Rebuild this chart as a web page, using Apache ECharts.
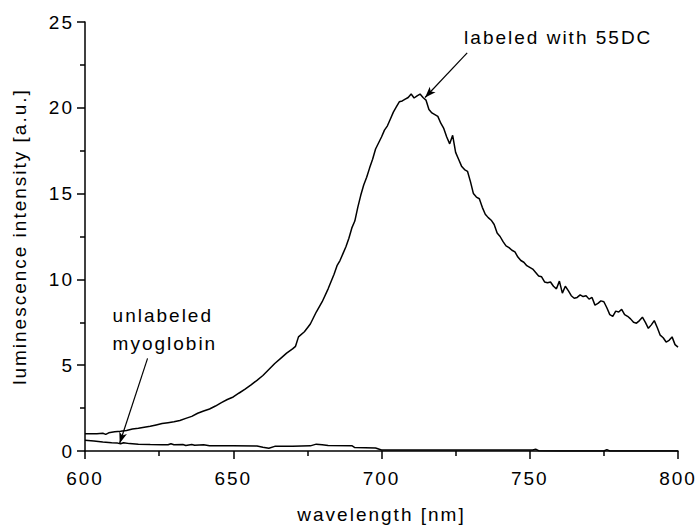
<!DOCTYPE html>
<html>
<head lang="en">
    <meta charset="UTF-8"/>
    <title>luminescence intensity</title>
    <script src="https://cdn.jsdelivr.net/npm/echarts@6/dist/echarts.min.js"></script>
    <style>
        html, body { margin: 0; padding: 0; background: #fff; }
        #main { width: 700px; height: 529px; }
        /* the reference text is drawn wide, so open the letters up */
        #main text { letter-spacing: 2px; }
    </style>
</head>
<body>
<div id="main"></div>
<script>
    // labeled with 55DC
    var labeledNm = [600, 602, 604, 606, 607, 608, 610, 612, 614, 616, 618, 620, 622, 624, 626, 628, 630, 632, 634, 636,
        638, 640, 642, 644, 646, 648, 650, 652, 654, 656, 658, 660, 662, 664, 666, 668, 670, 671, 672, 674,
        676, 678, 680, 682, 684, 685, 686, 687, 688, 689, 690, 691, 692, 693, 694, 695, 696, 697, 698, 699,
        700, 701, 702, 703, 704, 705, 706, 707, 708, 709, 710, 711, 712, 713, 714, 715, 716, 717, 718, 719,
        720, 721, 722, 723, 724, 725, 726, 727, 728, 729, 730, 731, 732, 733, 734, 735, 736, 737, 738, 739,
        740, 741, 742, 743, 744, 745, 746, 747, 748, 749, 750, 751, 752, 753, 754, 755, 756, 757, 758, 759,
        760, 761, 762, 763, 764, 765, 766, 767, 768, 769, 770, 771, 772, 773, 774, 775, 776, 777, 778, 779,
        780, 781, 782, 783, 784, 785, 786, 787, 788, 789, 790, 791, 792, 793, 794, 795, 796, 797, 798, 799, 800];
    var labeledVal = [1.00, 1.01, 1.00, 1.03, 0.97, 1.06, 1.12, 1.15, 1.20, 1.28, 1.32, 1.38, 1.44, 1.52, 1.60, 1.65, 1.70, 1.78, 1.90, 2.02,
        2.20, 2.33, 2.45, 2.62, 2.82, 3.00, 3.15, 3.38, 3.60, 3.85, 4.12, 4.40, 4.75, 5.10, 5.40, 5.70, 5.95, 6.10, 6.65, 6.95,
        7.40, 8.10, 8.70, 9.45, 10.30, 10.80, 11.10, 11.50, 11.90, 12.40, 13.00, 13.40, 14.20, 14.90, 15.50, 15.95, 16.50, 17.00, 17.60, 17.95,
        18.30, 18.70, 18.95, 19.35, 19.75, 20.05, 20.35, 20.40, 20.50, 20.60, 20.80, 20.57, 20.70, 20.80, 20.60, 20.45, 19.90, 19.70, 19.60, 19.50,
        19.10, 18.80, 18.30, 17.90, 18.40, 17.40, 17.00, 16.60, 16.40, 16.30, 15.70, 15.00, 14.80, 14.70, 14.20, 13.80, 13.60, 13.45, 13.20, 12.70,
        12.50, 12.20, 11.95, 11.85, 11.70, 11.60, 11.30, 11.10, 11.00, 10.80, 10.70, 10.60, 10.40, 10.20, 10.15, 9.85, 9.80, 9.85, 9.60, 9.45,
        9.90, 9.20, 9.60, 9.35, 9.05, 8.90, 8.95, 9.10, 9.00, 9.05, 8.85, 8.95, 8.50, 8.60, 8.75, 8.70, 8.35, 7.95, 7.85, 8.15,
        8.10, 8.25, 7.95, 7.85, 7.70, 7.50, 7.45, 7.60, 7.80, 7.50, 7.15, 7.35, 7.60, 7.20, 6.75, 6.60, 6.35, 6.45, 6.65, 6.20, 6.05];

    // unlabeled myoglobin
    var unlabeledNm = [600, 603, 606, 609, 611, 612, 613, 615, 618, 622, 626, 628, 629, 630, 633, 634, 636, 637, 640, 642,
        650, 658, 660, 662, 664, 670, 676, 678, 680, 682, 690, 691, 698, 700, 720, 740, 751, 752, 753, 760,
        775, 776, 777, 800];
    var unlabeledVal = [0.62, 0.58, 0.52, 0.48, 0.46, 0.42, 0.48, 0.43, 0.40, 0.38, 0.37, 0.36, 0.42, 0.36, 0.38, 0.32, 0.38, 0.33, 0.36, 0.30,
        0.30, 0.29, 0.22, 0.16, 0.27, 0.28, 0.30, 0.40, 0.36, 0.32, 0.31, 0.20, 0.17, 0.06, 0.06, 0.06, 0.06, 0.10, 0.02, 0.00,
        0.00, 0.08, 0.00, 0.00];

    // annotations: text anchors and arrows, in data coordinates
    var labeledText = 'labeled with 55DC';
    var labeledTextAt = [759.6, 24.1];
    var labeledArrow = [[728.9, 23.2], [714.7, 20.6]];
    var unlabeledText = 'unlabeled\nmyoglobin';
    var unlabeledTextAt = [609.3, 7.1];
    var unlabeledArrow = [[621.1, 5.4], [611.7, 0.45]];

    function pairs(xs, ys) {
        return xs.map(function (x, i) { return [x, ys[i]]; });
    }

    var font = "'Liberation Sans', Arial, sans-serif";
    var black = '#000';
    var fs = 19;

    function axisBase() {
        return {
            type: 'value',
            nameLocation: 'middle',
            nameTextStyle: {color: black, fontSize: fs, fontFamily: font},
            axisLine: {show: true, lineStyle: {color: black, width: 1.5}},
            axisTick: {show: true, length: 8, lineStyle: {color: black, width: 1.5}},
            minorTick: {show: true, splitNumber: 2, length: 5, lineStyle: {color: black, width: 1.5}},
            splitLine: {show: false},
            axisLabel: {color: black, fontSize: fs, fontFamily: font}
        };
    }

    function arrowLine(seg) {
        return {
            silent: true,
            symbol: ['none', 'arrow'],
            symbolSize: [6, 11],
            label: {show: false},
            lineStyle: {color: black, width: 1.2, type: 'solid'},
            data: [[{coord: seg[0]}, {coord: seg[1]}]]
        };
    }

    var xAxis = axisBase();
    xAxis.min = 600;
    xAxis.max = 800;
    xAxis.interval = 50;
    xAxis.name = 'wavelength [nm]';
    xAxis.nameGap = 54;
    xAxis.axisLabel.margin = 18;

    var yAxis = axisBase();
    yAxis.min = 0;
    yAxis.max = 25;
    yAxis.interval = 5;
    yAxis.name = 'luminescence intensity [a.u.]';
    yAxis.nameGap = 56;
    yAxis.axisLabel.margin = 11;

    var myChart = echarts.init(document.getElementById('main'), null, {renderer: 'svg'});
    var option = {
        animation: false,
        backgroundColor: '#fff',
        grid: {left: 85, right: 22, top: 22, bottom: 77},
        xAxis: xAxis,
        yAxis: yAxis,
        series: [{
            name: 'labeled with 55DC',
            type: 'line',
            data: pairs(labeledNm, labeledVal),
            showSymbol: false,
            lineStyle: {color: black, width: 1.5},
            markLine: arrowLine(labeledArrow)
        }, {
            name: 'unlabeled myoglobin',
            type: 'line',
            data: pairs(unlabeledNm, unlabeledVal),
            showSymbol: false,
            lineStyle: {color: black, width: 1.5},
            markLine: arrowLine(unlabeledArrow)
        }]
    };
    myChart.setOption(option);

    // place the annotation texts through the chart's own scales
    var p1 = myChart.convertToPixel({gridIndex: 0}, labeledTextAt);
    var p2 = myChart.convertToPixel({gridIndex: 0}, unlabeledTextAt);
    myChart.setOption({
        graphic: [{
            type: 'text', x: p1[0], y: p1[1], silent: true,
            style: {text: labeledText, fill: black, fontSize: fs, fontFamily: font, align: 'center', verticalAlign: 'middle'}
        }, {
            type: 'text', x: p2[0], y: p2[1], silent: true,
            style: {text: unlabeledText, fill: black, fontSize: fs, fontFamily: font, lineHeight: 28, align: 'left', verticalAlign: 'middle'}
        }]
    });
</script>
</body>
</html>
